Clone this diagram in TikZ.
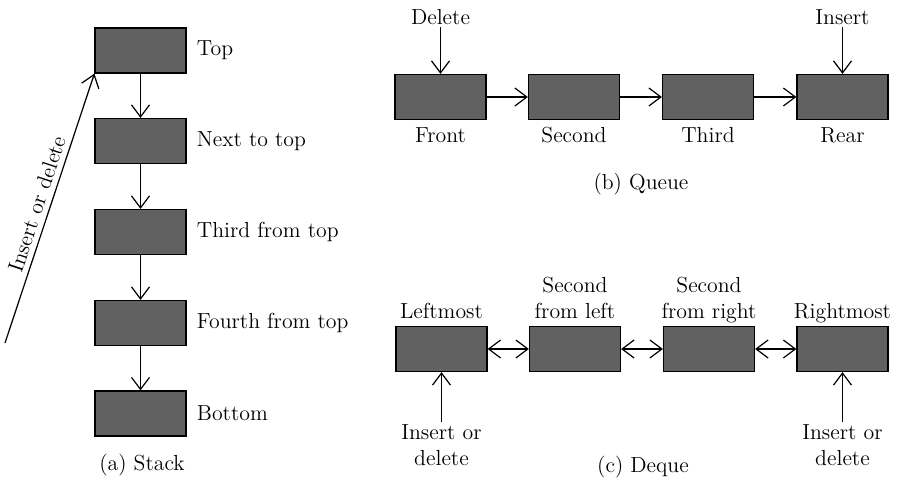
\documentclass[tikz,border=0pt]{standalone}
\usetikzlibrary{arrows.meta, positioning}

\begin{document}
\begin{tikzpicture}[x=0.02cm, y=-0.02cm, >={Straight Barb[length=2.4mm, width=3.6mm]},
  line width=0.7pt,
  cell/.style={draw=black, line width=0.7pt, fill=black!62,
    minimum width=1.82cm, minimum height=0.9cm, inner sep=0pt},
  lbl/.style={font=\fontsize{12.4}{15}\selectfont, inner sep=1pt}]

\useasboundingbox (0,0) rectangle (897,479);

% --- (a) Stack ---
\node[cell] (s1) at (140.5,50.5) {};
\node[cell] (s2) at (140.5,141) {};
\node[cell] (s3) at (140.5,232) {};
\node[cell] (s4) at (140.5,323) {};
\node[cell] (s5) at (140.5,413.5) {};

\node[lbl, right=0.16cm of s1] (s1lbl) {Top};
\node[lbl, right=0.16cm of s2] (s2lbl) {Next to top};
\node[lbl, right=0.16cm of s3] (s3lbl) {Third from top};
\node[lbl, right=0.16cm of s4] (s4lbl) {Fourth from top};
\node[lbl, right=0.16cm of s5] (s5lbl) {Bottom};

\draw[->] (s1) -- (s2);
\draw[->] (s2) -- (s3);
\draw[->] (s3) -- (s4);
\draw[->] (s4) -- (s5);

% Insert or delete
\coordinate (sin) at (5,343);
\draw[->] (sin) -- (s1.south west)
  node[lbl, midway, sloped, above, inner sep=3pt] (sinlbl) {Insert or delete};

\node[lbl] (capa) at (142,465) {(a) Stack};

% --- (b) Queue ---
\node[cell] (q1) at (440.5,97) {};
\node[cell] (q2) at (574,97) {};
\node[cell] (q3) at (708,97) {};
\node[cell] (q4) at (842.5,97) {};

\node[lbl, below=0.1cm of q1] (q1lbl) {Front};
\node[lbl, below=0.1cm of q2] (q2lbl) {Second};
\node[lbl, below=0.1cm of q3] (q3lbl) {Third};
\node[lbl, below=0.1cm of q4] (q4lbl) {Rear};

\draw[->] (q1) -- (q2);
\draw[->] (q2) -- (q3);
\draw[->] (q3) -- (q4);

\node[lbl] (qdel) at (440.5,17) {Delete};
\node[lbl] (qins) at (842.5,17) {Insert};
\draw[->] (qdel) -- (q1);
\draw[->] (qins) -- (q4);

\node[lbl] (capb) at (641,184) {(b) Queue};

% --- (c) Deque ---
\node[cell] (d1) at (441.5,349) {};
\node[cell] (d2) at (575,349) {};
\node[cell] (d3) at (709,349) {};
\node[cell] (d4) at (842.5,349) {};

\node[lbl, above=0.1cm of d1, text depth=0pt] (d1lbl) {Leftmost};
\node[lbl, above=0.1cm of d2, text depth=0pt, align=center] (d2lbl) {Second\\from left};
\node[lbl, above=0.1cm of d3, text depth=0pt, align=center] (d3lbl) {Second\\from right};
\node[lbl, above=0.1cm of d4, text depth=0pt] (d4lbl) {Rightmost};

\draw[<->] (d1) -- (d2);
\draw[<->] (d2) -- (d3);
\draw[<->] (d3) -- (d4);

\node[lbl, below=1.0cm of d1, align=center] (d1ins) {Insert or\\delete};
\node[lbl, below=1.0cm of d4, align=center] (d4ins) {Insert or\\delete};
\draw[->] (d1ins) -- (d1);
\draw[->] (d4ins) -- (d4);

\node[lbl] (capc) at (643,467) {(c) Deque};

\end{tikzpicture}
\end{document}
